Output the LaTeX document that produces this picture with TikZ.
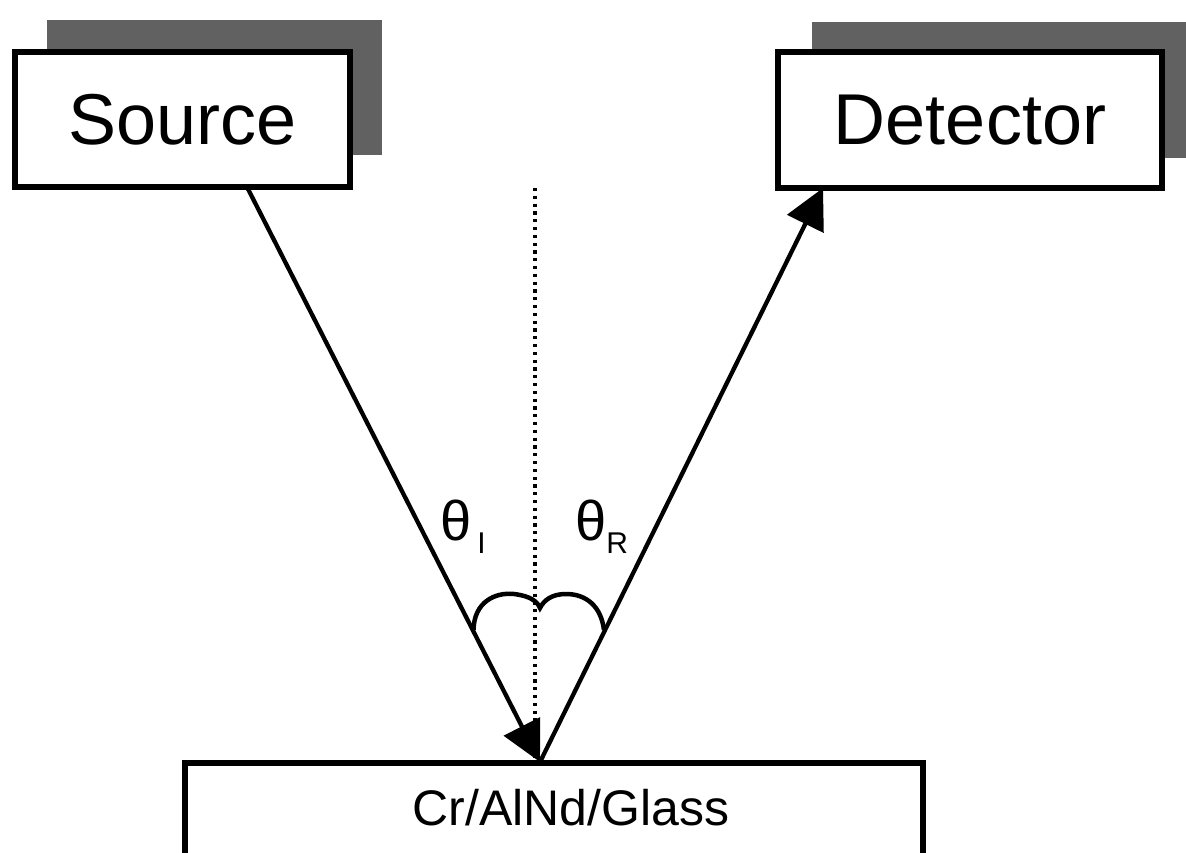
\documentclass[tikz,border=0pt]{standalone}
\usepackage{fontspec}
\setmainfont{Liberation Sans}
\usetikzlibrary{arrows.meta}
\begin{document}
\begin{tikzpicture}[x=1pt,y=-1pt,
  boxstyle/.style={draw=black,line width=5.5pt,fill=white,inner sep=0pt},
  shadowstyle/.style={fill=black!62,draw=none},
  ray/.style={line width=4.3pt,-{Triangle[length=40pt,width=40pt]}},
  normalline/.style={line width=3.2pt,dash pattern=on 3.2pt off 4.6pt},
  arcline/.style={line width=4.5pt},
  bigtext/.style={font=\fontsize{72}{72}\selectfont},
  smalltext/.style={font=\fontsize{50}{50}\selectfont}]
\useasboundingbox (0,0) rectangle (1186,852);
% shadows
\fill[shadowstyle] (47,20) rectangle (382,155);
\fill[shadowstyle] (812,22) rectangle (1194,158);
% boxes
\node[boxstyle,minimum width=335pt,minimum height=135pt,bigtext] (source) at (182.5,119.5) {Source};
\node[boxstyle,minimum width=384pt,minimum height=136pt,bigtext] (detector) at (970,120) {Detector};
\node[boxstyle,minimum width=738pt,minimum height=150pt] (sample) at (554,838) {};
\node[smalltext,inner sep=0pt] (samplelabel) at (571,808) {Cr/AlNd/Glass};
% coordinates
\coordinate (srcout) at (247,187);
\coordinate (hit) at (540,762);
\coordinate (detin) at (823,188);
\coordinate (normtop) at (535,188);
\coordinate (normbot) at (535,758);
% normal
\draw[normalline] (normtop) -- (normbot);
% rays
\draw[ray] (srcout) -- (hit);
\draw[ray] (hit) -- (detin);
% angle arcs
\draw[arcline] (473.5,630) .. controls (474,602) and (495,592) .. (514,594)
  .. controls (530,596) and (537,601) .. (540,608)
  .. controls (544,600) and (552,594) .. (566,594)
  .. controls (586,594) and (601,606) .. (604,630);
% labels
\node[anchor=base west,inner sep=0pt] (thetai) at (440,540)
  {\fontsize{56}{56}\selectfont θ\kern 6pt\raisebox{-13pt}{\fontsize{30}{30}\selectfont I}};
\node[anchor=base west,inner sep=0pt] (thetar) at (575,540)
  {\fontsize{56}{56}\selectfont θ\kern 0pt\raisebox{-13pt}{\fontsize{30}{30}\selectfont R}};
\end{tikzpicture}
\end{document}
